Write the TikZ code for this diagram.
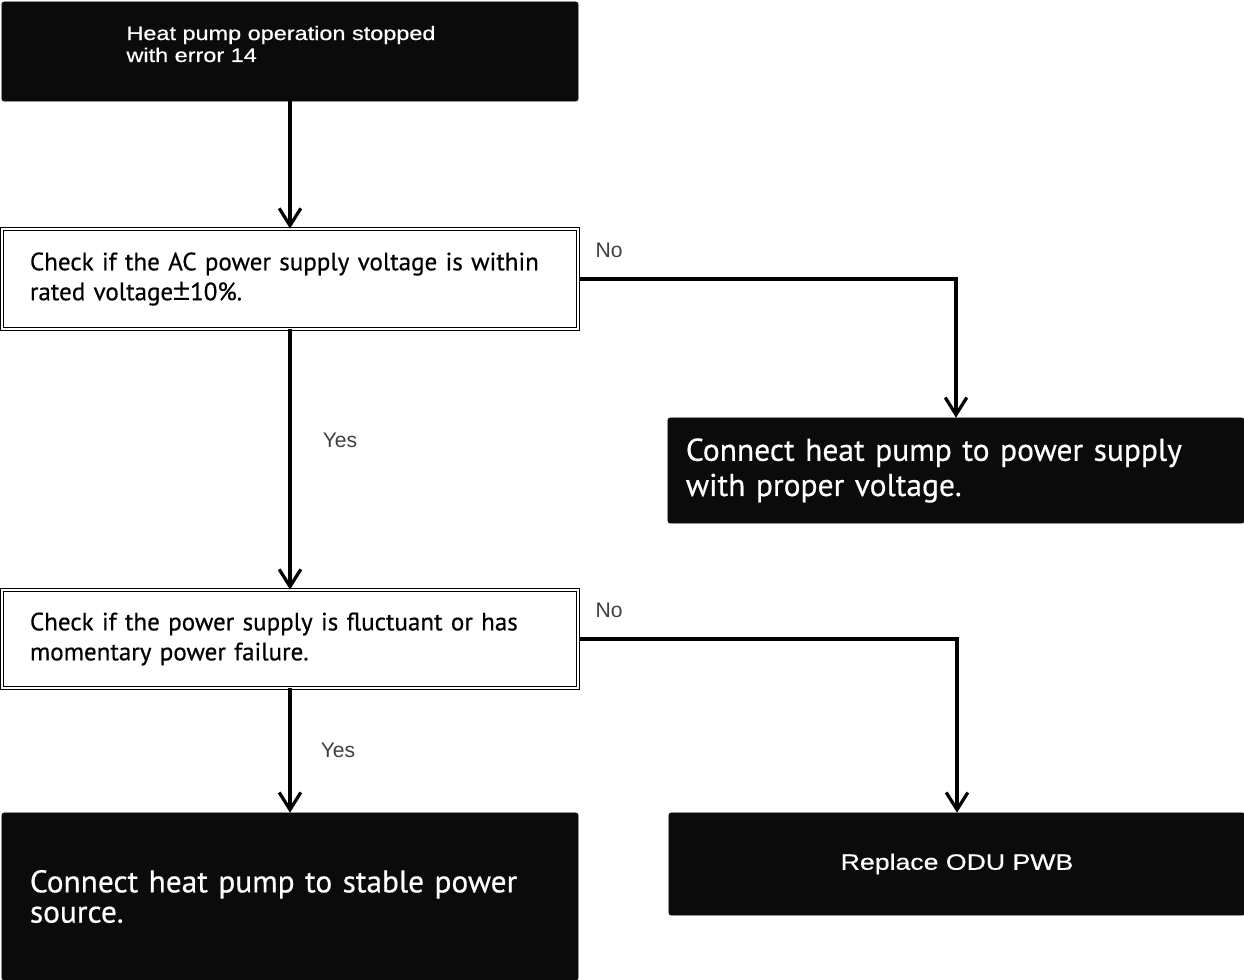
\documentclass[tikz,border=0pt]{standalone}
\usepackage{fontspec}
\setmainfont{PT Sans}[FakeBold=0.5]
\newfontfamily\arialfont[FakeStretch=1.2,FakeBold=0.6]{Liberation Sans}
\newfontfamily\labelfont{Liberation Sans}
\usetikzlibrary{arrows.meta,positioning}
\definecolor{boxblack}{RGB}{11,11,11}
\definecolor{lblgray}{RGB}{64,64,64}

\begin{document}
\begin{tikzpicture}[x=0.025cm,y=-0.025cm,
  darkbox/.style={fill=boxblack,draw=boxblack,rounded corners=1.5pt,minimum width=14.4cm,text=white},
  checkbox/.style={draw,double,double distance=1.5pt,line width=0.6pt,fill=white,minimum width=14.4cm,
    text width=13cm,inner xsep=0.7cm,align=left,font=\fontsize{17.8}{21.3}\selectfont},
  flow/.style={line width=2.3pt,-{Straight Barb[length=4.3mm,width=5.4mm]}},
  lbl/.style={text=lblgray,font=\labelfont\fontsize{15}{17}\selectfont}]
  \useasboundingbox (0,0) rectangle (1244,980);
  % boxes
  \node[darkbox,minimum height=2.475cm] (start) at (290,51.5) {};
  \node[text=white,align=left,font=\arialfont\fontsize{13.9}{15.6}\selectfont] (starttxt) at (281,44)
    {Heat pump operation stopped\\ with error 14};
  \node[checkbox,minimum height=2.5cm] (chk1) at (290,279)
    {Check if the AC power supply voltage is within\\ rated voltage{\labelfont\fontsize{22}{22}\selectfont ±}10\%.};
  \node[darkbox,minimum height=2.625cm,text width=13.5cm,inner xsep=0.45cm,align=left,
    font=\fontsize{22.4}{25}\selectfont] (fix1) at (956,470.5)
    {Connect heat pump to power supply\\ with proper voltage.};
  \node[checkbox,minimum height=2.45cm] (chk2) at (290,639)
    {Check if the power supply is fluctuant or has\\ momentary power failure.};
  \node[darkbox,minimum height=4.175cm,text width=13cm,inner xsep=0.7cm,align=left,
    font=\fontsize{22.3}{21.5}\selectfont] (fix2) at (290,896.5)
    {Connect heat pump to stable power\\ source.};
  \node[darkbox,minimum height=2.55cm,font=\arialfont\fontsize{15.8}{18}\selectfont] (repl) at (957,864)
    {Replace ODU PWB};
  % connectors
  \draw[flow] (start) -- (chk1);
  \draw[flow] (chk1) -- (chk2);
  \draw[flow] (chk2) -- (fix2);
  \draw[flow] (chk1.east) -| (fix1.north);
  \draw[flow] (chk2.east) -| (repl.north);
  \node[lbl] (yes1) at (340,440) {Yes};
  \node[lbl] (yes2) at (338,750) {Yes};
  \node[lbl] (no1) at (609,250) {No};
  \node[lbl] (no2) at (609,610) {No};
\end{tikzpicture}
\end{document}
